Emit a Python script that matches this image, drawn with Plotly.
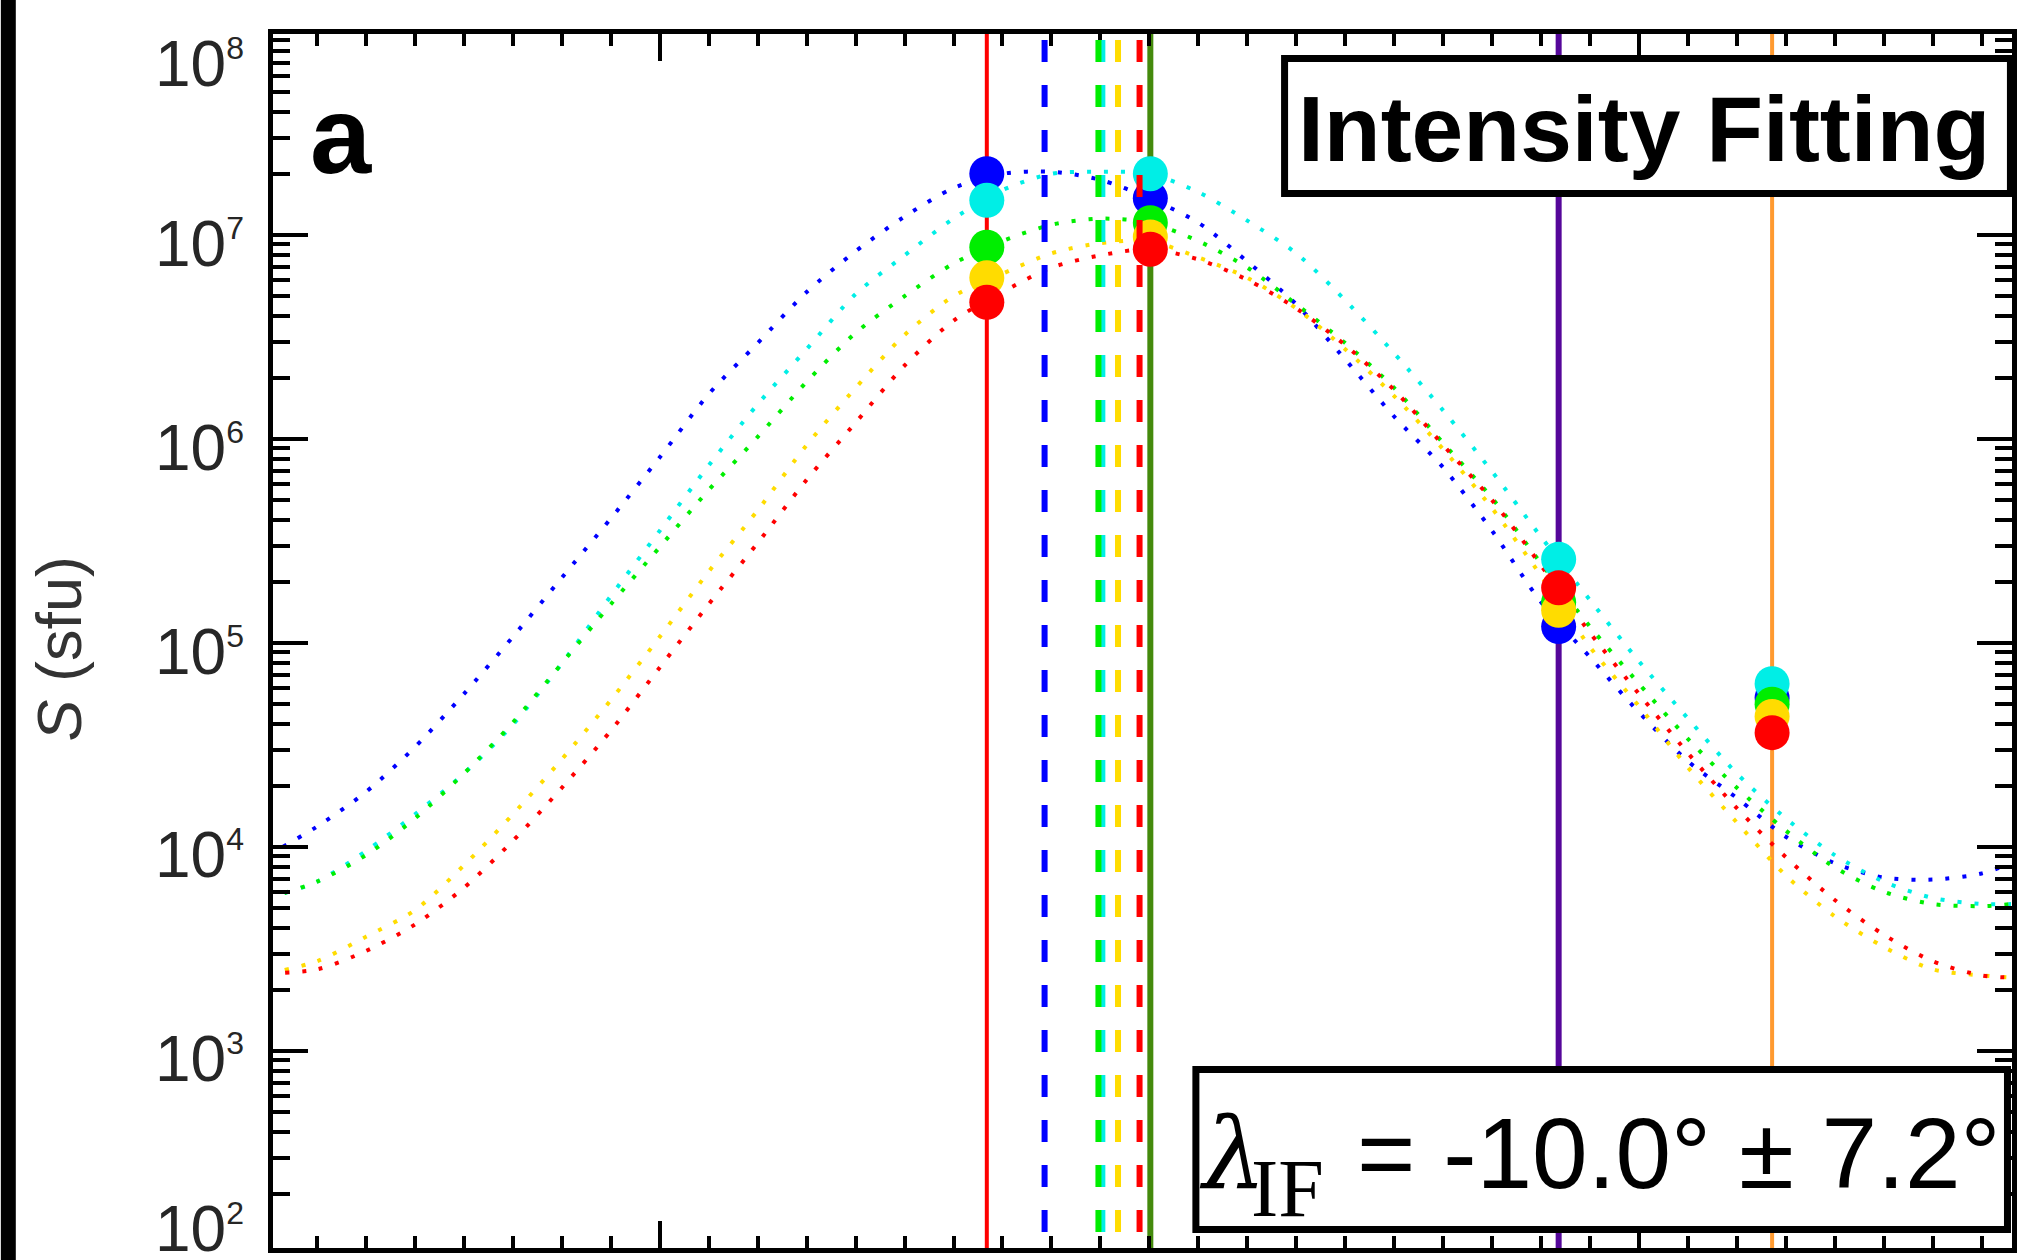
import numpy as np
import plotly.graph_objects as go

# ---------------- data ----------------
# position along the horizontal axis (arbitrary degrees scale, unlabeled in the crop)
x_grid = [-140, -135, -130, -125, -120, -115, -110, -105, -100, -95, -90, -85, -80,
          -75, -70, -65, -60, -55, -50, -45, -40, -35, -30, -25, -20, -15, -10,
          -5, 0, 5, 10, 15, 20, 25, 30, 35, 38]

# fitted model curves, log10(S / sfu)
log_blue = [3.96, 4.10, 4.27, 4.49, 4.75, 5.03, 5.32, 5.61, 5.91, 6.22, 6.47, 6.72, 6.92,
            7.09, 7.23, 7.30, 7.31, 7.27, 7.18, 7.06, 6.87, 6.66, 6.39, 6.11, 5.86, 5.55, 5.20,
            4.93, 4.66, 4.42, 4.24, 4.05, 3.92, 3.85, 3.84, 3.87, 3.92]
log_cyan = [3.75, 3.83, 3.98, 4.16, 4.36, 4.60, 4.90, 5.23, 5.55, 5.87, 6.17, 6.44, 6.71,
            6.90, 7.08, 7.22, 7.30, 7.31, 7.30, 7.21, 7.07, 6.91, 6.68, 6.42, 6.14, 5.84, 5.52,
            5.21, 4.91, 4.63, 4.36, 4.14, 3.96, 3.83, 3.75, 3.72, 3.72]
log_green = [3.75, 3.83, 3.96, 4.14, 4.36, 4.61, 4.90, 5.19, 5.47, 5.75, 6.01, 6.28, 6.52,
             6.70, 6.86, 6.97, 7.05, 7.08, 7.06, 6.97, 6.84, 6.66, 6.47, 6.25, 5.98, 5.71, 5.39,
             5.08, 4.80, 4.53, 4.29, 4.08, 3.90, 3.78, 3.72, 3.71, 3.72]
log_yellow = [3.38, 3.44, 3.56, 3.69, 3.91, 4.16, 4.43, 4.72, 5.03, 5.35, 5.65, 5.97, 6.25,
              6.51, 6.70, 6.81, 6.91, 6.96, 6.97, 6.89, 6.79, 6.64, 6.44, 6.21, 5.95, 5.66, 5.33,
              4.98, 4.69, 4.39, 4.12, 3.86, 3.66, 3.51, 3.40, 3.37, 3.36]
log_red = [3.38, 3.40, 3.49, 3.62, 3.80, 4.03, 4.29, 4.57, 4.88, 5.19, 5.49, 5.80, 6.08,
           6.36, 6.58, 6.72, 6.84, 6.90, 6.93, 6.88, 6.78, 6.64, 6.46, 6.24, 5.97, 5.70, 5.38,
           5.05, 4.75, 4.46, 4.19, 3.95, 3.74, 3.57, 3.44, 3.37, 3.36]

# observed intensities at the four observing positions, log10(S / sfu)
obs_x = [-66.6, -49.9, -8.2, 13.6]
obs_blue = [7.30, 7.18, 5.08, 4.73]
obs_cyan = [7.17, 7.30, 5.41, 4.80]
obs_green = [6.94, 7.06, 5.20, 4.70]
obs_yellow = [6.79, 6.99, 5.16, 4.64]
obs_red = [6.67, 6.93, 5.27, 4.56]

# fitted peak positions (dashed lines)
peak_x = {"cyan": -54.8, "blue": -60.7, "green": -55.2, "yellow": -53.2, "red": -51.0}

# y tick labels
y_decades = [2, 3, 4, 5, 6, 7, 8]
y_ticktext = [f"10<sup><span style='font-size:32px'>{d}</span></sup>" for d in y_decades]

# ---------------- styles / layout ----------------
col = {"blue": "#0000ff", "cyan": "#00eee6", "green": "#00ee00",
       "yellow": "#ffdc00", "red": "#ff0000"}
obs_line_colors = ["#ff0000", "#448a0c", "#55079a", "#ff9a30"]
obs_line_widths = [4, 6, 6, 4]

W, H = 2023, 1260
ML, MR, MT, MB = 273, 6, 34, 12
YR = [2.034, 7.985]
XR = [-139.5, 38.1]


def ypx(v):
    return MT + (YR[1] - v) / (YR[1] - YR[0]) * (H - MT - MB)


fig = go.Figure()

curves = [("blue", log_blue), ("cyan", log_cyan), ("green", log_green),
          ("yellow", log_yellow), ("red", log_red)]
for name, lg in curves:
    fig.add_trace(go.Scatter(
        x=x_grid, y=10 ** np.array(lg), mode="lines",
        line=dict(color=col[name], width=4, dash="4px,13px", shape="spline", smoothing=0.8),
        hoverinfo="skip"))

obs = [("blue", obs_blue), ("cyan", obs_cyan), ("green", obs_green),
       ("yellow", obs_yellow), ("red", obs_red)]
for name, lg in obs:
    fig.add_trace(go.Scatter(
        x=obs_x, y=10 ** np.array(lg), mode="markers",
        marker=dict(size=35, color=col[name], line=dict(width=0)),
        hoverinfo="skip"))

shapes = []
for xv, c, w in zip(obs_x, obs_line_colors, obs_line_widths):
    shapes.append(dict(type="line", xref="x", yref="paper", x0=xv, x1=xv, y0=0, y1=1,
                       line=dict(color=c, width=w), layer="below"))
for name, xv in peak_x.items():
    shapes.append(dict(type="line", xref="x", yref="paper", x0=xv, x1=xv, y0=0.995, y1=0,
                       line=dict(color=col[name], width=6, dash="22px,23px"), layer="above"))
shapes.append(dict(type="rect", xref="paper", yref="paper", x0=0.5817, x1=0.9991,
                   y0=0.8686, y1=0.9798, fillcolor="white",
                   line=dict(color="black", width=7), layer="above"))
shapes.append(dict(type="rect", xref="paper", yref="paper", x0=0.5307, x1=0.9974,
                   y0=0.0152, y1=0.1470, fillcolor="white",
                   line=dict(color="black", width=7), layer="above"))
shapes.append(dict(type="rect", xref="paper", yref="paper", x0=-0.1565, x1=-0.1479,
                   y0=-0.03, y1=1.05, fillcolor="black", line=dict(width=0), layer="above"))

annotations = []
label_baselines_px = [1252, 1082, 878, 675, 471, 267, 87]
LBL = 64
for d, t, base in zip(y_decades, y_ticktext, label_baselines_px):
    yp = min(max(d, YR[0]), YR[1])
    shift = -(base - ypx(yp) + 0.212 * LBL + 1)
    annotations.append(dict(xref="paper", yref="y", x=0, y=yp, text=t, showarrow=False,
                            xanchor="right", yanchor="bottom", xshift=-27, yshift=shift,
                            font=dict(family="Liberation Sans", size=LBL, color="#262626")))
annotations.append(dict(xref="paper", yref="paper", x=-0.1233, y=0.4934,
                        text="<i>S</i> (sfu)", textangle=-90, showarrow=False,
                        xanchor="center", yanchor="middle",
                        font=dict(family="Liberation Sans", size=63, color="#333333")))
annotations.append(dict(xref="paper", yref="paper", x=0.0201, y=0.8649, text="<b>a</b>",
                        showarrow=False, xanchor="left", yanchor="bottom",
                        font=dict(family="Liberation Sans", size=110, color="black")))
annotations.append(dict(xref="paper", yref="paper", x=0.7881, y=0.8775,
                        text="<b>Intensity Fitting</b>", showarrow=False,
                        xanchor="center", yanchor="bottom",
                        font=dict(family="Liberation Sans", size=93, color="black")))
annotations.append(dict(xref="paper", yref="paper", x=0.5315, y=0.0272, text="<i>λ</i>",
                        showarrow=False, xanchor="left", yanchor="bottom",
                        font=dict(family="DejaVu Serif", size=100, color="black")))
annotations.append(dict(xref="paper", yref="paper", x=0.5614, y=0.0101, text="IF",
                        showarrow=False, xanchor="left", yanchor="bottom",
                        font=dict(family="Liberation Serif", size=82, color="black")))
annotations.append(dict(xref="paper", yref="paper", x=0.6221, y=0.0301,
                        text="= -10.0° ± 7.2°", showarrow=False,
                        xanchor="left", yanchor="bottom",
                        font=dict(family="Liberation Sans", size=100, color="black")))

fig.update_layout(width=W, height=H,
                  margin=dict(l=ML, r=MR, t=MT, b=MB),
                  plot_bgcolor="white", paper_bgcolor="white", showlegend=False,
                  shapes=shapes, annotations=annotations)
fig.update_xaxes(range=XR, showline=True, linecolor="black", linewidth=5,
                 mirror="allticks", ticks="inside", ticklen=27, tickwidth=4,
                 tickcolor="black", tick0=0, dtick=100, showticklabels=False,
                 showgrid=False, zeroline=False,
                 minor=dict(ticks="inside", ticklen=12, tickwidth=4, tickcolor="black",
                            tick0=0, dtick=5, showgrid=False))
fig.update_yaxes(type="log", range=YR, showline=True, linecolor="black",
                 linewidth=5, mirror="allticks", ticks="inside", ticklen=35, tickwidth=4,
                 tickcolor="black", dtick=1, showticklabels=False, showgrid=False,
                 zeroline=False,
                 minor=dict(ticks="inside", ticklen=17, tickwidth=4, tickcolor="black",
                            dtick="D1", showgrid=False))

fig.write_html("out.html", config={"displayModeBar": False},
               post_script="document.body.style.margin='0';document.body.style.overflow='hidden';")
